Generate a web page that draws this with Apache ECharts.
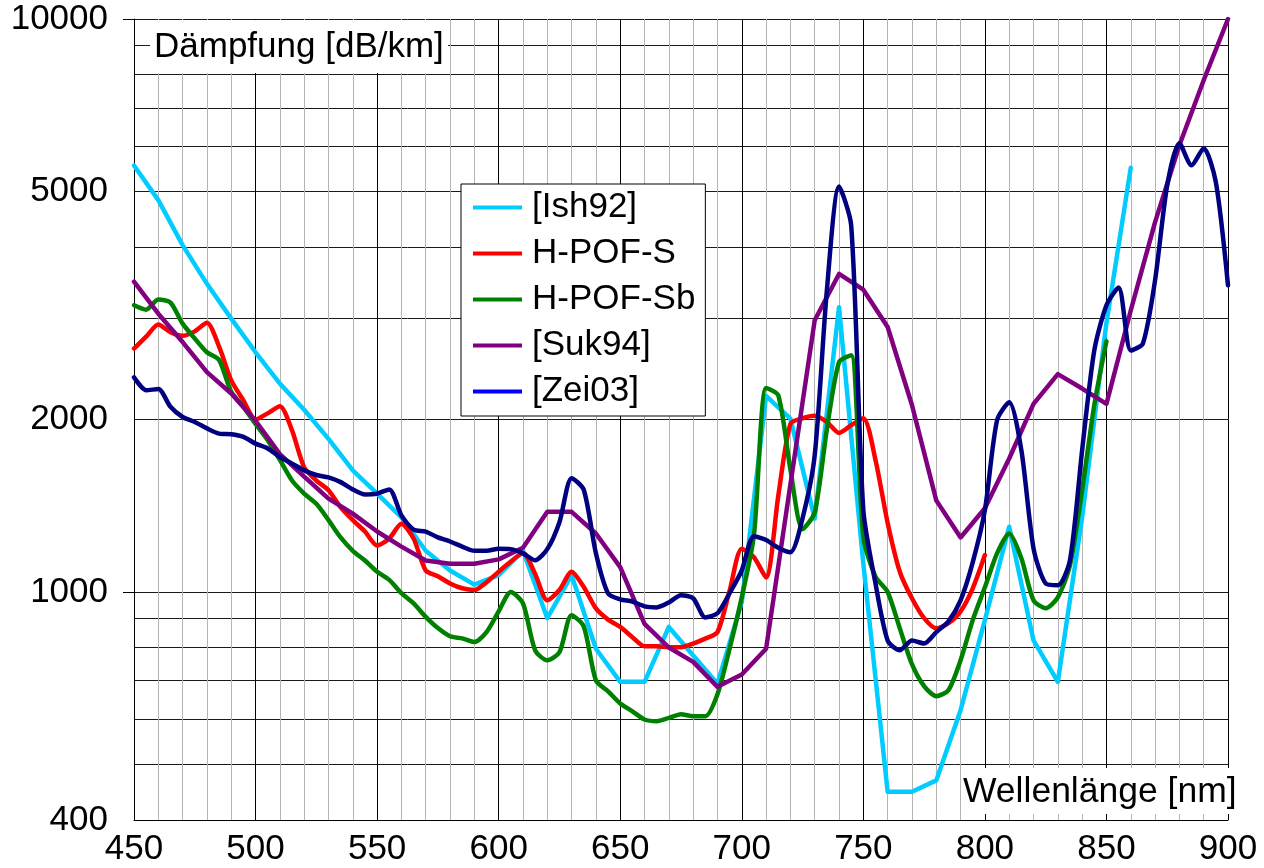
<!DOCTYPE html>
<html>
<head>
<meta charset="utf-8">
<script src="https://cdn.jsdelivr.net/npm/echarts@6/dist/echarts.min.js"></script>
<style>
  html, body { margin: 0; padding: 0; background: #fff; }
  #chart { width: 1264px; height: 868px; }
</style>
</head>
<body>
<div id="chart"></div>
<script>
// Attenuation spectra of polymer optical fibres, wavelength in nm, attenuation in dB/km

// 10 nm grid of the literature curves
const ish92Nm = [450,460,470,480,490,500,510,520,530,540,550,560,570,580,590,600,610,620,630,640,
  650,660,670,680,690,700,710,720,730,740,750,760,770,780,790,800,810,820,830,840,850,860];
const ish92 = [5550,4830,4030,3450,3000,2620,2310,2080,1850,1630,1485,1350,1180,1090,1030,1070,1180,900,1070,796,
  697,697,869,775,692,960,2200,2007,1343,3140,1120,448,448,469,622,893,1300,823,697,1350,2950,5500];

const suk94Nm = [450,460,470,480,490,500,510,520,530,540,550,560,570,580,590,600,610,620,630,640,
  650,660,670,680,690,700,710,720,730,740,750,760,770,780,790,800,810,820,830,840,850,860,870,880,890,900];
const suk94 = [3480,3060,2730,2420,2220,1990,1740,1590,1455,1370,1275,1200,1135,1120,1120,1140,1195,1380,1380,1265,
  1105,880,800,755,683,718,796,1540,2980,3590,3370,2900,2120,1445,1245,1400,1710,2130,2400,2265,2130,3100,4420,6020,7820,10000];

// 5 nm grid of the measured curves
const nm5 = [450,455,460,465,470,475,480,485,490,495,500,505,510,515,520,525,530,535,540,545,
  550,555,560,565,570,575,580,585,590,595,600,605,610,615,620,625,630,635,640,645,
  650,655,660,665,670,675,680,685,690,695,700,705,710,715,720,725,730,735,740,745,
  750,755,760,765,770,775,780,785,790,795,800,805,810,815,820,825,830,835,840,845,
  850,855,860,865,870,875,880,885,890,895,900];

const hpofS = [2660,2790,2930,2840,2800,2850,2950,2680,2340,2160,
  2000,2050,2110,1915,1650,1565,1505,1405,1335,1275,
  1205,1240,1315,1240,1090,1065,1035,1015,1008,1040,
  1085,1130,1170,1075,967,1008,1085,1020,936,895,
  869,834,804,804,801,801,813,829,851,1005,
  1190,1150,1060,1470,1965,2010,2030,1980,1895,1955,
  2010,1700,1320,1085,975,900,864,882,925,1015,1160];

const hpofSb = [3165,3110,3240,3200,2940,2770,2620,2540,2235,2105,
  1965,1840,1700,1565,1485,1425,1335,1245,1180,1135,
  1085,1050,995,955,905,865,837,830,818,851,
  925,1000,955,791,760,785,911,871,701,671,
  639,619,599,595,603,612,607,607,663,797,
  979,1256,2270,2205,1637,1287,1377,1923,2518,2590,
  1246,1063,1000,864,748,685,658,674,760,893,
  1019,1168,1265,1145,967,937,979,1113,1505,2120,2740];

const zei03 = [2370,2250,2260,2105,2020,1980,1930,1890,1885,1865,
  1815,1780,1720,1675,1630,1600,1585,1555,1510,1480,
  1485,1510,1360,1285,1275,1245,1225,1200,1180,1180,
  1190,1188,1168,1136,1188,1324,1580,1508,1168,994,
  971,962,944,940,959,987,975,903,918,995,
  1091,1251,1232,1195,1173,1345,1732,3360,5100,4365,
  1390,1035,823,791,823,813,851,889,967,1126,
  1389,1993,2144,1768,1192,1035,1027,1136,1768,2640,
  3165,3400,2640,2715,3500,5125,6070,5555,5950,5190,3430];

// axis ticks
const xMin = 450, xMax = 900, xStep = 50;
const yLabelValues = [400, 1000, 2000, 5000, 10000];
const yGridValues = [400,500,600,700,800,900,1000,2000,3000,4000,5000,6000,7000,8000,9000,10000];
const yDecadeTicks = [1000, 10000];

const FONT = '"Liberation Sans", Arial, sans-serif';

function pairs(nm, vals) {
  return vals.map((v, i) => [nm[i], v]);
}

function lineSeries(name, data, color, smooth) {
  return {
    name: name,
    type: 'line',
    data: data,
    color: color,
    showSymbol: false,
    symbol: 'none',
    smooth: smooth,
    clip: true,
    lineStyle: { color: color, width: 4.5, cap: 'round', join: 'round' },
    emphasis: { disabled: true }
  };
}

const chart = echarts.init(document.getElementById('chart'), null, { renderer: 'canvas' });

chart.setOption({
  animation: false,
  backgroundColor: '#ffffff',
  textStyle: { fontFamily: FONT },
  grid: { left: 134, right: 36, top: 19, bottom: 48, containLabel: false },
  xAxis: {
    type: 'value',
    min: xMin, max: xMax, interval: xStep,
    axisLine: { show: true, lineStyle: { color: '#000', width: 1 } },
    axisTick: { show: false },
    axisLabel: { color: '#000', fontSize: 35, fontFamily: FONT, margin: 12 },
    splitLine: { show: true, lineStyle: { color: '#000', width: 1 } },
    minorTick: { show: false, splitNumber: 5 },
    minorSplitLine: { show: true, lineStyle: { color: '#b4b4b4', width: 1 } }
  },
  yAxis: [{
    type: 'log', logBase: 10,
    min: 400, max: 10000,
    axisLine: { show: true, lineStyle: { color: '#000', width: 1 } },
    axisTick: { show: false, customValues: yGridValues },
    axisLabel: {
      color: '#000', fontSize: 35, fontFamily: FONT, margin: 26,
      customValues: yLabelValues,
      formatter: function (v) { return String(Math.round(v)); }
    },
    splitLine: { show: true, lineStyle: { color: '#1a1a1a', width: 1 } }
  }, {
    type: 'log', logBase: 10,
    min: 400, max: 10000,
    position: 'left',
    axisLine: { show: false },
    axisTick: { show: true, inside: false, length: 11, customValues: yDecadeTicks, lineStyle: { color: '#000', width: 1 } },
    axisLabel: { show: false },
    splitLine: { show: false }
  }],
  legend: {
    orient: 'vertical',
    left: 461, top: 184,
    padding: [6, 10, 7, 12],
    itemGap: 11,
    itemWidth: 49, itemHeight: 4,
    icon: 'rect',
    backgroundColor: '#fff',
    borderColor: '#000', borderWidth: 1, borderRadius: 0,
    textStyle: { color: '#000', fontSize: 35, fontFamily: FONT, padding: [0, 0, 0, 5] },
    selectedMode: false,
    data: [
      { name: '[Ish92]' },
      { name: 'H-POF-S' },
      { name: 'H-POF-Sb' },
      { name: '[Suk94]' },
      { name: '[Zei03]', itemStyle: { color: '#0000ff' } }
    ]
  },
  graphic: [
    { type: 'rect', z: 50, shape: { x: 150, y: 20, width: 298, height: 53 }, style: { fill: '#fff' } },
    { type: 'text', z: 51, x: 154, y: 47,
      style: { text: 'Dämpfung [dB/km]', font: '35px "Liberation Sans", Arial, sans-serif', fill: '#000', verticalAlign: 'middle' } },
    { type: 'rect', z: 50, shape: { x: 961, y: 768, width: 280, height: 46 }, style: { fill: '#fff' } },
    { type: 'text', z: 51, x: 963, y: 792,
      style: { text: 'Wellenlänge [nm]', font: '35.5px "Liberation Sans", Arial, sans-serif', fill: '#000', verticalAlign: 'middle' } }
  ],
  series: [
    lineSeries('[Ish92]', pairs(ish92Nm, ish92), '#00ccff', false),
    lineSeries('H-POF-S', pairs(nm5, hpofS), '#ff0000', 0.25),
    lineSeries('H-POF-Sb', pairs(nm5, hpofSb), '#008000', 0.25),
    lineSeries('[Suk94]', pairs(suk94Nm, suk94), '#800080', false),
    lineSeries('[Zei03]', pairs(nm5, zei03), '#000080', 0.25)
  ]
});
</script>
</body>
</html>
